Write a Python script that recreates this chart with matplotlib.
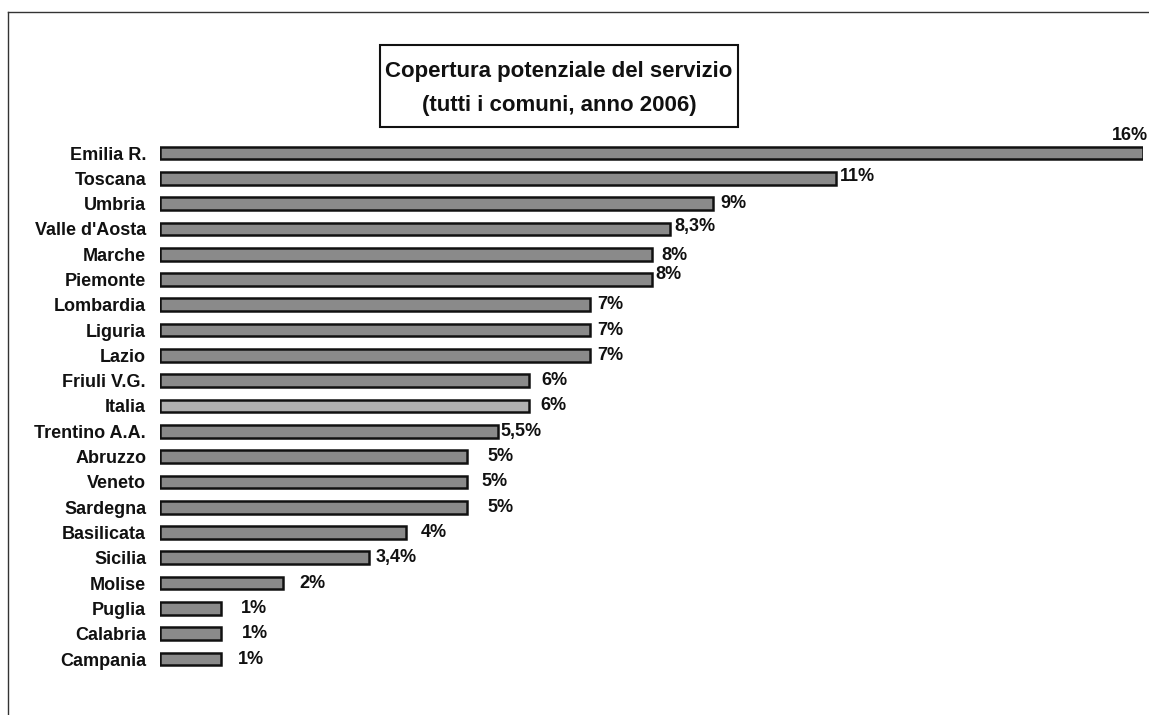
import matplotlib
matplotlib.use("Agg")
import matplotlib.pyplot as plt
from matplotlib.lines import Line2D
from matplotlib.patches import Rectangle

plt.rcParams['font.family'] = ['Liberation Sans', 'DejaVu Sans']

regions = ["Emilia R.", "Toscana", "Umbria", "Valle d'Aosta", "Marche", "Piemonte",
           "Lombardia", "Liguria", "Lazio", "Friuli V.G.", "Italia", "Trentino A.A.",
           "Abruzzo", "Veneto", "Sardegna", "Basilicata", "Sicilia", "Molise",
           "Puglia", "Calabria", "Campania"]
values = [16, 11, 9, 8.3, 8, 8, 7, 7, 7, 6, 6, 5.5, 5, 5, 5, 4, 3.4, 2, 1, 1, 1]
value_labels = ["16%", "11%", "9%", "8,3%", "8%", "8%", "7%", "7%", "7%", "6%", "6%",
                "5,5%", "5%", "5%", "5%", "4%", "3,4%", "2%", "1%", "1%", "1%"]

# label offsets in pixels (style only)
label_dx = [5, 4, 7, 4, 10, 4, 7, 7, 7, 13, 12, 3, 20, 14, 20, 15, 7, 16, 19, 20, 16]
label_dy = [-17, -2, 0, -2, 1, -5, 0, 0, 0, 0, 0, 0, 0, 0, 0, 0, 0, 0, 0, 0, 0]
label_ha = ['right'] + ['left'] * 20

W, H = 1149, 715
fig = plt.figure(figsize=(W / 100, H / 100), dpi=100)
fig.patch.set_facecolor('white')

ax_left, ax_right = 160, 1143
ax_top, ax_bot = 140.35, 671.65
ax = fig.add_axes([ax_left / W, 1 - ax_bot / H, (ax_right - ax_left) / W, (ax_bot - ax_top) / H])

ypos = list(range(len(regions)))
colors = ['#b0b0b0' if r == 'Italia' else '#8a8a8a' for r in regions]
ax.barh(ypos, values, height=0.5, color=colors, edgecolor='#111111', linewidth=1.8)
ax.set_xlim(0, 16)
ax.set_ylim(len(regions) - 0.5, -0.5)
ax.set_yticks(ypos)
ax.set_yticklabels(regions, fontsize=13, fontweight='bold', color='#111111')
ax.tick_params(axis='y', length=0, pad=10)
ax.set_xticks([])
for s in ax.spines.values():
    s.set_visible(False)
ax.set_facecolor('none')

for i, (v, lab) in enumerate(zip(values, value_labels)):
    ax.annotate(lab, xy=(v, i), xytext=(label_dx[i] * 0.72, -label_dy[i] * 0.72),
                textcoords='offset points', ha=label_ha[i], va='center', fontsize=13,
                fontweight='bold', color='#111111', annotation_clip=False)

# title box
bx0, bx1, by0, by1 = 380, 738, 45, 127
fig.add_artist(Rectangle((bx0 / W, 1 - by1 / H), (bx1 - bx0) / W, (by1 - by0) / H,
                         transform=fig.transFigure, facecolor='white',
                         edgecolor='#111111', linewidth=1.5))
fig.text((bx0 + bx1) / 2 / W, 1 - 72 / H, "Copertura potenziale del servizio",
         ha='center', va='center', fontsize=16, fontweight='bold', color='#111111')
fig.text((bx0 + bx1) / 2 / W, 1 - 105 / H, "(tutti i comuni, anno 2006)",
         ha='center', va='center', fontsize=16, fontweight='bold', color='#111111')

# outer frame (left and top)
fig.add_artist(Line2D([8 / W, 8 / W], [0, 1 - 12 / H], transform=fig.transFigure,
                      color='#333333', linewidth=1))
fig.add_artist(Line2D([8 / W, 1], [1 - 12 / H, 1 - 12 / H], transform=fig.transFigure,
                      color='#333333', linewidth=1))

fig.savefig("out.png", dpi=100)
